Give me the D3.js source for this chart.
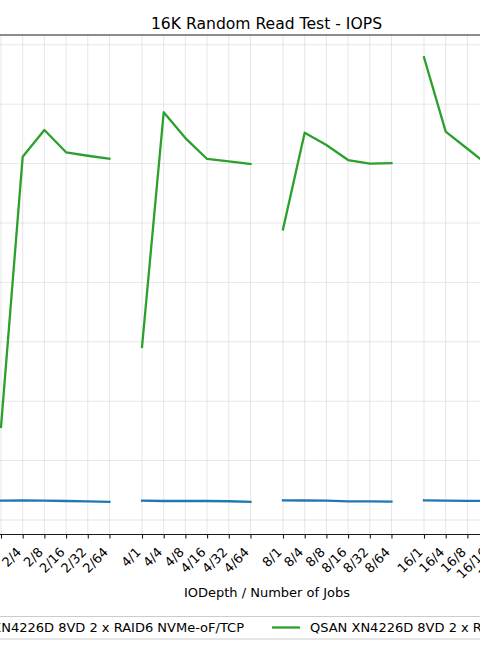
<!DOCTYPE html>
<html><head><meta charset="utf-8">
<script src="https://cdn.jsdelivr.net/npm/d3@7"></script>
<style>html,body{margin:0;background:#fff;overflow:hidden} svg{display:block;font-family:"DejaVu Sans",sans-serif}</style>
</head><body><svg id="c" width="480" height="650"></svg>
<script>
const title = "16K Random Read Test - IOPS";
const xLabel = "IODepth / Number of Jobs";
const groups = ["2", "4", "8", "16"];
const jobs = ["1", "4", "8", "16", "32", "64"];
const categories = ["2/1","2/4","2/8","2/16","2/32","2/64",
                    "4/1","4/4","4/8","4/16","4/32","4/64",
                    "8/1","8/4","8/8","8/16","8/32","8/64",
                    "16/1","16/4","16/8","16/16","16/32"];
const greenIOPS = [78300, 305800, 328300, 309500, 306600, 304100,
                   145600, 343200, 321500, 303900, 301900, 299700,
                   244700, 326000, 315700, 303000, 299900, 300300,
                   389500, 326900, 312500, 298000, null];
const blueIOPS = [16250, 16400, 16250, 16000, 15750, 15300,
                  16250, 16000, 16000, 16000, 15800, 15300,
                  16600, 16400, 16250, 15600, 15600, 15500,
                  16600, 16300, 16150, 16000, null];
const yTicks = [0, 50000, 100000, 150000, 200000, 250000, 300000, 350000, 400000];
const seriesNames = ["QSAN XN4226D 8VD 2 x RAID6 NVMe-oF/TCP", "QSAN XN4226D 8VD 2 x RAID6 NVMe-oF/RDMA"];
const seriesColors = ["#1f77b4", "#2ca02c"];

const svg = d3.select("#c");
const W = 480, H = 650;
const plotTop = 35, plotBottom = 534;

// position of category: group index * 6.5 + job index
const pos = categories.map(c => {
  const [g, j] = c.split("/");
  return groups.indexOf(g) * 6.5 + jobs.indexOf(j);
});
const x = d3.scaleLinear().domain([0, 19.5]).range([1, 424]);
const y = d3.scaleLinear().domain([-11785, 408250]).range([plotBottom, plotTop]);

// grid
const grid = svg.append("g").attr("stroke", "#b0b0b0").attr("stroke-opacity", 0.35).attr("stroke-width", 0.9);
yTicks.forEach(t => grid.append("line").attr("x1", -10).attr("x2", W + 10).attr("y1", y(t)).attr("y2", y(t)));
pos.forEach(p => grid.append("line").attr("x1", x(p)).attr("x2", x(p)).attr("y1", plotTop).attr("y2", plotBottom));

// lines per group
const line = d3.line().defined(d => d.v != null).x(d => x(d.p)).y(d => y(d.v));
[blueIOPS, greenIOPS].forEach((vals, si) => {
  groups.forEach((g, gi) => {
    const pts = categories.map((c, i) => ({c, p: pos[i], v: vals[i]})).filter(d => d.c.split("/")[0] === g);
    svg.append("path").datum(pts).attr("d", line).attr("fill", "none")
      .attr("stroke", seriesColors[si]).attr("stroke-width", 2.3)
      .attr("stroke-linecap", "square").attr("stroke-linejoin", "round");
  });
});

// spines
svg.append("line").attr("x1", -10).attr("x2", W + 10).attr("y1", plotTop).attr("y2", plotTop).attr("stroke", "#1a1a1a").attr("stroke-width", 1.1);
const xAxis = d3.axisBottom(x).tickValues(pos).tickFormat((d, i) => categories[i]).tickSize(4.6).tickSizeOuter(0);
const gx = svg.append("g").attr("transform", `translate(0,${plotBottom})`).call(xAxis);
gx.select(".domain").attr("d", `M-10,0.5H${W + 10}`).attr("stroke", "#1a1a1a").attr("stroke-width", 1.1);
gx.selectAll(".tick line").attr("stroke", "#1a1a1a").attr("stroke-width", 1.1);
gx.selectAll(".tick text")
  .attr("font-family", "DejaVu Sans").attr("font-size", 13).attr("fill", "#000")
  .attr("text-anchor", "end").attr("dy", null).attr("y", null)
  .attr("transform", "translate(-1,19) rotate(-45)");

// titles
svg.append("text").attr("x", 266.5).attr("y", 28.5).attr("text-anchor", "middle")
  .attr("font-size", 15.6).attr("fill", "#000").text(title);
svg.append("text").attr("x", 267).attr("y", 596.5).attr("text-anchor", "middle")
  .attr("font-size", 13).attr("fill", "#000").text(xLabel);

// legend
const lg = svg.append("g");
lg.append("rect").attr("x", -40).attr("y", 616.5).attr("width", 600).attr("height", 22.5).attr("rx", 3)
  .attr("fill", "#fff").attr("fill-opacity", 0.8).attr("stroke", "#cccccc").attr("stroke-width", 1);
lg.append("line").attr("x1", -80).attr("x2", -52).attr("y1", 627.5).attr("y2", 627.5).attr("stroke", seriesColors[0]).attr("stroke-width", 2.3);
lg.append("text").attr("x", 244).attr("y", 632.3).attr("text-anchor", "end").attr("font-size", 13).attr("fill", "#000").text(seriesNames[0]);
lg.append("line").attr("x1", 272).attr("x2", 300).attr("y1", 627.5).attr("y2", 627.5).attr("stroke", seriesColors[1]).attr("stroke-width", 2.3);
lg.append("text").attr("x", 310).attr("y", 632.3).attr("font-size", 13).attr("fill", "#000").text(seriesNames[1]);
</script></body></html>
